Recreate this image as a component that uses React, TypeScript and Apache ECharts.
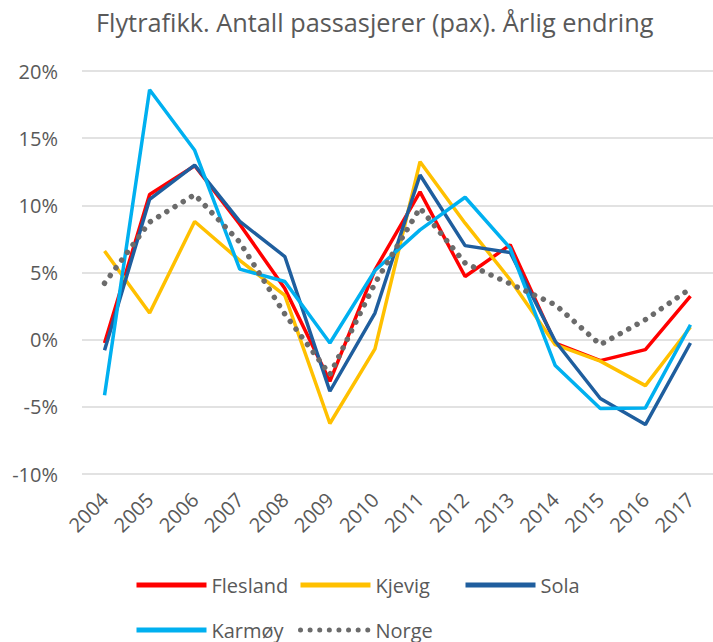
import React, { useEffect, useRef } from "react";
import * as echarts from "echarts";

const years = ["2004","2005","2006","2007","2008","2009","2010","2011","2012","2013","2014","2015","2016","2017"];
const flesland = [-0.25, 10.8, 12.95, 8.6, 3.8, -3.1, 5.2, 11.0, 4.7, 7.06, -0.25, -1.56, -0.74, 3.25];
const kjevig = [6.6, 1.98, 8.8, 5.9, 3.3, -6.24, -0.69, 13.25, 8.67, 4.46, -0.37, -1.6, -3.42, 0.94];
const sola = [-0.79, 10.45, 13.0, 8.8, 6.19, -3.84, 1.98, 12.26, 7.0, 6.49, -0.12, -4.38, -6.32, -0.25];
const karmoy = [-4.13, 18.6, 14.1, 5.25, 4.33, -0.25, 5.15, 8.17, 10.6, 6.81, -1.93, -5.13, -5.08, 1.11];
const norge = [4.2, 8.75, 10.8, 7.26, 1.9, -2.6, 4.2, 9.8, 5.7, 4.16, 2.6, -0.37, 1.49, 3.8];

const yTicks = { min: -10, max: 20, interval: 5 };

const FONT = "'Open Sans', sans-serif";
const TXT = "#595959";

export default function App() {
  const ref = useRef<HTMLDivElement>(null);
  useEffect(() => {
    document.body.style.margin = "0";
    const chart = echarts.init(ref.current!, null, { renderer: "svg" });
    const mk = (name: string, data: number[], color: string, dotted = false) => ({
      name,
      type: "line",
      data,
      symbol: "none",
      lineStyle: dotted
        ? { color, width: 5.5, type: [0.01, 9.6], cap: "round" }
        : { color, width: 3.5 },
      itemStyle: { color },
    });
    const leg = (name: string, left: number, top: number) => ({
      data: [name],
      left,
      top,
      itemWidth: 70,
      itemHeight: 14,
      itemStyle: { opacity: 0 },
      lineStyle: { opacity: 1, width: 5 },
      textStyle: { color: TXT, fontSize: 20, fontFamily: FONT },
      itemGap: 0,
      padding: 0,
      selectedMode: false,
    });
    chart.setOption({
      animation: false,
      title: {
        text: "Flytrafikk. Antall passasjerer (pax). Årlig endring",
        left: 91,
        top: 4,
        textStyle: { color: TXT, fontSize: 25.3, fontWeight: "normal", fontFamily: FONT },
      },
      legend: [
        leg("Flesland", 134, 575),
        leg("Kjevig", 298, 575),
        leg("Sola", 463, 575),
        leg("Karmøy", 134, 620),
        leg("Norge", 298, 620),
      ],
      grid: { left: 82, top: 71, width: 638, height: 403 },
      xAxis: {
        type: "category",
        data: years,
        boundaryGap: true,
        axisLine: { show: false },
        axisTick: { show: false },
        axisLabel: { rotate: 45, interval: 0, color: TXT, fontSize: 20, fontFamily: FONT, margin: 22 },
      },
      yAxis: {
        type: "value",
        min: yTicks.min,
        max: yTicks.max,
        interval: yTicks.interval,
        axisLabel: { formatter: "{value}%", color: TXT, fontSize: 20, fontFamily: FONT, margin: 24 },
        splitLine: { lineStyle: { color: "#D9D9D9", width: 1.5 } },
        axisLine: { show: false },
        axisTick: { show: false },
      },
      series: [
        mk("Flesland", flesland, "#FF0000"),
        mk("Kjevig", kjevig, "#FFC000"),
        mk("Sola", sola, "#1F5E9E"),
        mk("Karmøy", karmoy, "#00B0F0"),
        mk("Norge", norge, "#6B6B6B", true),
      ],
    });
    return () => chart.dispose();
  }, []);
  return <div ref={ref} style={{ width: 713, height: 642 }} />;
}
